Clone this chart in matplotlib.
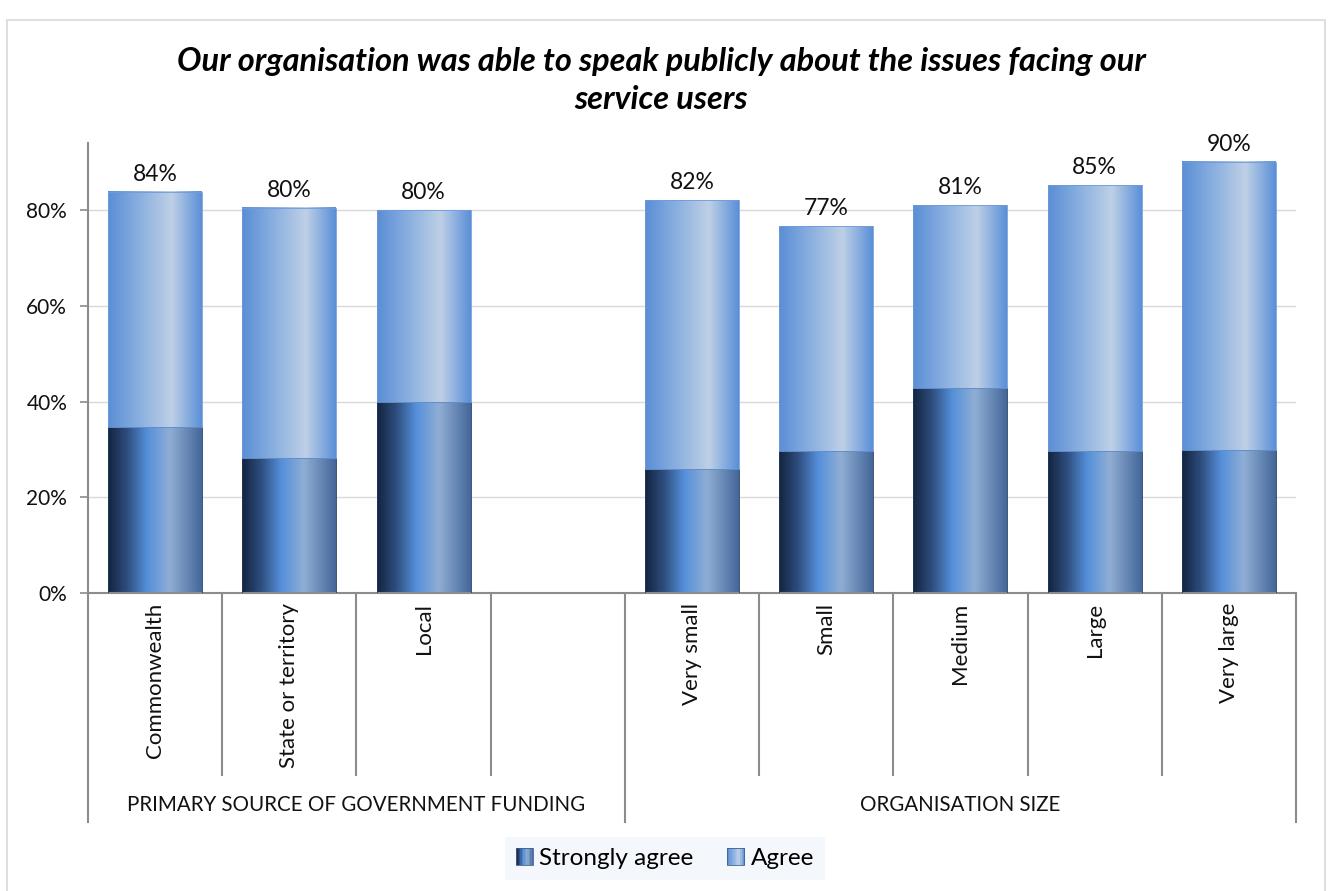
import numpy as np
import matplotlib.pyplot as plt
from matplotlib.colors import LinearSegmentedColormap
from matplotlib.patches import Rectangle
from matplotlib.legend_handler import HandlerBase

plt.rcParams['font.family'] = ['Lato', 'DejaVu Sans']

title = "Our organisation was able to speak publicly about the issues facing our\nservice users"
categories = ["Commonwealth", "State or territory", "Local", "",
              "Very small", "Small", "Medium", "Large", "Very large"]
groups = ["PRIMARY SOURCE OF GOVERNMENT FUNDING", "ORGANISATION SIZE"]
group_spans = [(0, 3), (4, 8)]
strongly_agree = [34.6, 28.1, 39.9, np.nan, 26.0, 29.7, 42.8, 29.7, 29.8]
agree = [49.2, 52.3, 40.1, np.nan, 56.1, 47.0, 38.2, 55.5, 60.3]

# horizontal "cylinder" gradients, like the Excel fills
cmap_strong = LinearSegmentedColormap.from_list(
    "strong", [(0, "#13243f"), (0.2, "#2e4d7d"), (0.42, "#5590db"),
               (0.66, "#90aed4"), (1.0, "#44679a")])
cmap_agree = LinearSegmentedColormap.from_list(
    "agree", [(0, "#5a8ed6"), (0.35, "#8cb1e0"), (0.68, "#bed0e6"),
              (1.0, "#5a8fd8")])
grad = np.linspace(0, 1, 256).reshape(1, -1)

fig = plt.figure(figsize=(13.3, 8.91), dpi=100)
fig.patches.append(Rectangle((7 / 1330, -0.01), 1318 / 1330, 0.999 - 10 / 891,
                             transform=fig.transFigure, fill=False,
                             edgecolor="#d9d9d9", lw=1.2))
ax = fig.add_axes([88 / 1330, 1 - 593 / 891, 1208 / 1330, 450 / 891])

x = np.arange(len(categories))
width = 0.7
sa = np.array(strongly_agree)
ag = np.array(agree)
total = sa + ag

bars_sa = ax.bar(x, sa, width, color="none", edgecolor="#1f3a60", lw=0.6, zorder=3)
bars_ag = ax.bar(x, ag, width, bottom=sa, color="none", edgecolor="#6f9bd8", lw=0.6, zorder=3)

for bars, cmap in [(bars_sa, cmap_strong), (bars_ag, cmap_agree)]:
    for b in bars:
        h = b.get_height()
        if np.isnan(h):
            continue
        x0, y0 = b.get_x(), b.get_y()
        ax.imshow(grad, cmap=cmap, aspect="auto", zorder=2,
                  extent=[x0, x0 + b.get_width(), y0, y0 + h])

for xi, t in zip(x, total):
    if np.isnan(t):
        continue
    ax.annotate(f"{t:.0f}%", (xi, t), xytext=(0, 5), textcoords="offset points",
                ha="center", va="bottom", fontsize=16.5, color="#111111")

ax.set_xlim(-0.5, len(categories) - 0.5)
ax.set_ylim(0, 94)
ax.set_yticks([0, 20, 40, 60, 80])
ax.set_yticklabels([f"{v}%" for v in [0, 20, 40, 60, 80]], fontsize=15, color="#111111")
ax.grid(axis="y", color="#d9d9d9", lw=1.0, zorder=0)
ax.set_axisbelow(True)
for s in ["top", "right"]:
    ax.spines[s].set_visible(False)
for s in ["left", "bottom"]:
    ax.spines[s].set_color("#8c8c8c")
    ax.spines[s].set_linewidth(1.5)
ax.tick_params(axis="y", length=6, width=1.2, color="#8c8c8c", pad=9)

# multi-level category axis
ax.set_xticks([])
trans = ax.get_xaxis_transform()
for xi, lab in zip(x, categories):
    ax.text(xi, -0.022, lab, rotation=90, ha="center", va="top",
            fontsize=16, color="#111111", transform=trans)
group_edges = [-0.5, 3.5, len(categories) - 0.5]
for xe in np.arange(-0.5, len(categories), 1.0):
    y_end = -0.509 if xe in group_edges else -0.404
    ax.plot([xe, xe], [0, y_end], color="#8c8c8c", lw=1.5,
            transform=trans, clip_on=False)
for g, (a, b) in zip(groups, group_spans):
    ax.text((a + b) / 2, -0.472, g, ha="center", va="center",
            fontsize=14.8, color="#111111", transform=trans)

fig.text(0.497, 0.910, title, ha="center", va="center", fontsize=23.4,
         fontweight="bold", fontstyle="italic", linespacing=1.38)


class GradientHandler(HandlerBase):
    def __init__(self, cmap):
        super().__init__()
        self.cmap = cmap

    def create_artists(self, legend, orig_handle, xdescent, ydescent,
                       width, height, fontsize, trans):
        side = height * 1.0
        x0 = xdescent + width - side
        y0 = -ydescent + (height - side) / 2
        n = 12
        arts = []
        for i in range(n):
            arts.append(Rectangle((x0 + side * i / n, y0), side / n + 0.2, side,
                                  facecolor=self.cmap((i + 0.5) / n),
                                  edgecolor="none", transform=trans))
        arts.append(Rectangle((x0, y0), side, side, fill=False,
                              edgecolor="#3f5f8f", lw=0.6, transform=trans))
        return arts


h_sa = Rectangle((0, 0), 1, 1)
h_ag = Rectangle((0, 0), 1, 1)
leg = fig.legend([h_sa, h_ag], ["Strongly agree", "Agree"],
                 handler_map={h_sa: GradientHandler(cmap_strong),
                              h_ag: GradientHandler(cmap_agree)},
                 loc="center", bbox_to_anchor=(0.5, 0.036), ncol=2,
                 fontsize=17.5, frameon=True, fancybox=False,
                 handlelength=0.7, handletextpad=0.25, columnspacing=1.4,
                 borderpad=0.45)
leg.get_frame().set_facecolor("#f2f5fa")
leg.get_frame().set_edgecolor("none")

fig.savefig("out.png", dpi=100)
